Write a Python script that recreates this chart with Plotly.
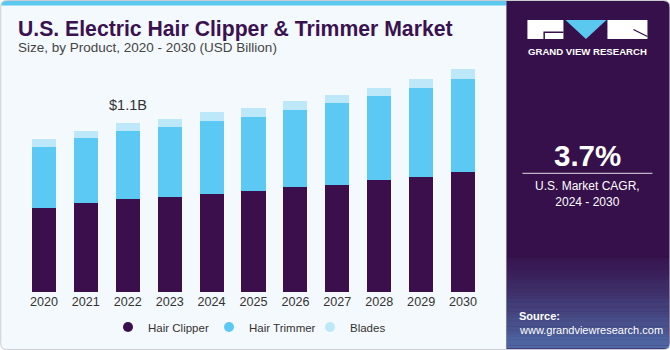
import plotly.graph_objects as go

# ---------------- data ----------------
years = ["2020", "2021", "2022", "2023", "2024", "2025", "2026", "2027", "2028", "2029", "2030"]
hair_clipper = [0.550, 0.580, 0.606, 0.619, 0.637, 0.660, 0.683, 0.698, 0.732, 0.750, 0.784]
hair_trimmer = [0.398, 0.422, 0.445, 0.458, 0.478, 0.482, 0.502, 0.537, 0.546, 0.582, 0.602]
blades = [0.050, 0.048, 0.048, 0.050, 0.057, 0.055, 0.063, 0.050, 0.054, 0.055, 0.065]
series_names = ["Hair Clipper", "Hair Trimmer", "Blades"]
series_colors = ["#3A0F4B", "#5CC9F5", "#BDE8FA"]
highlight_year = "2022"
highlight_label = "$1.1B"
title_text = "U.S. Electric Hair Clipper & Trimmer Market"
subtitle_text = "Size, by Product, 2020 - 2030 (USD Billion)"
cagr_text = "3.7%"
cagr_label = "U.S. Market CAGR,<br>2024 - 2030"

# ---------------- geometry helpers ----------------
W, H = 670, 350
L, R, T, B = 22.75, 186.4, 60, 58
PW, PH = W - L - R, H - T - B
Y_MAX = 232 / 153.4


def px(x):
    return (x - L) / PW


def py(y):
    return (H - B - y) / PH


def rrect(x0, y0, x1, y1, rtl=0, rtr=0, rbr=0, rbl=0):
    p = f"M {px(x0 + rtl)},{py(y0)} L {px(x1 - rtr)},{py(y0)} "
    p += f"Q {px(x1)},{py(y0)} {px(x1)},{py(y0 + rtr)} "
    p += f"L {px(x1)},{py(y1 - rbr)} Q {px(x1)},{py(y1)} {px(x1 - rbr)},{py(y1)} "
    p += f"L {px(x0 + rbl)},{py(y1)} Q {px(x0)},{py(y1)} {px(x0)},{py(y1 - rbl)} "
    p += f"L {px(x0)},{py(y0 + rtl)} Q {px(x0)},{py(y0)} {px(x0 + rtl)},{py(y0)} Z"
    return p


def poly(points):
    return "M " + " L ".join(f"{px(a)},{py(b)}" for a, b in points) + " Z"


fig = go.Figure()

for name, vals, col in zip(series_names, [hair_clipper, hair_trimmer, blades], series_colors):
    fig.add_trace(go.Bar(x=years, y=vals, name=name, marker=dict(color=col, line=dict(width=0)),
                         showlegend=False))
# legend entries with circle markers
for name, col in zip(series_names, series_colors):
    fig.add_trace(go.Scatter(x=[None], y=[None], mode="markers", name=name,
                             marker=dict(color=col, size=10, symbol="circle")))

shapes = []
# outer card
shapes.append(dict(type="path", path=rrect(0.5, 0.5, 669.5, 349.5, 6, 6, 6, 6),
                   fillcolor="#F4F9FD", line=dict(color="#C9CDD2", width=1), layer="below"))
# top blue strip
shapes.append(dict(type="path", path=rrect(1, 1, 506, 5.5, 5, 0, 0, 0),
                   fillcolor="#5BC8F0", line=dict(width=0), layer="below"))
# right dark panel
shapes.append(dict(type="path", path=rrect(506, 1, 669, 349, 0, 6, 6, 0),
                   fillcolor="#36104A", line=dict(width=0), layer="below"))
# gradient bands at bottom of dark panel
n_bands = 24
for i in range(n_bands):
    y0 = 258 + i * 3.8
    y1 = y0 + 3.9
    a = 0.05 + 0.55 * (i / (n_bands - 1)) ** 1.2
    shapes.append(dict(type="rect", xref="paper", yref="paper", x0=px(506), x1=px(668.5),
                       y0=py(min(y1, 348.5)), y1=py(y0),
                       fillcolor=f"rgba(95,165,225,{a:.3f})", line=dict(width=0), layer="below"))
# logo
shapes.append(dict(type="path", path=poly([(527, 20), (563, 20), (563, 39), (527, 39)]),
                   fillcolor="white", line=dict(width=0), layer="above"))
shapes.append(dict(type="path", path=poly([(543, 31.5), (563, 31.5), (563, 33), (544.5, 33), (544.5, 39), (543, 39)]),
                   fillcolor="#36104A", line=dict(width=0), layer="above"))
shapes.append(dict(type="path", path=poly([(565, 20), (606, 20), (585.5, 39)]),
                   fillcolor="#5BC8F0", line=dict(width=0), layer="above"))
shapes.append(dict(type="path", path=poly([(607, 20), (647, 20), (647, 39), (607, 39)]),
                   fillcolor="white", line=dict(width=0), layer="above"))
shapes.append(dict(type="line", xref="paper", yref="paper", x0=px(633), y0=py(29.5), x1=px(647), y1=py(36.5),
                   line=dict(color="#36104A", width=1.3), layer="above"))
# divider under CAGR
shapes.append(dict(type="line", xref="paper", yref="paper", x0=px(522), y0=py(173.3), x1=px(652), y1=py(173.3),
                   line=dict(color="rgba(255,255,255,0.85)", width=1), layer="above"))
for s in shapes:
    s.setdefault("xref", "paper")
    s.setdefault("yref", "paper")

FONT = "Liberation Sans, Arial, sans-serif"
annotations = [
    dict(text=f"<b>{title_text}</b>", x=px(15.5), y=py(28.9), xanchor="left", yanchor="middle",
         font=dict(family=FONT, size=21.2, color="#3A1250")),
    dict(text=subtitle_text, x=px(15.5), y=py(47.5), xanchor="left", yanchor="middle",
         font=dict(family=FONT, size=13.5, color="#444444")),
    dict(text="<b>GRAND VIEW RESEARCH</b>", x=px(587.5), y=py(51), xanchor="center", yanchor="middle",
         font=dict(family=FONT, size=9.6, color="white")),
    dict(text=f"<b>{cagr_text}</b>", x=px(587), y=py(155.3), xanchor="center", yanchor="middle",
         font=dict(family=FONT, size=29.5, color="white")),
    dict(text=cagr_label, x=px(587.5), y=py(193.5), xanchor="center", yanchor="middle",
         font=dict(family=FONT, size=12, color="white")),
    dict(text="<b>Source:</b>", x=px(517), y=py(316), xanchor="left", yanchor="middle",
         font=dict(family=FONT, size=11, color="white")),
    dict(text="www.grandviewresearch.com", x=px(517), y=py(330), xanchor="left", yanchor="middle",
         font=dict(family=FONT, size=11, color="white")),
]
for a in annotations:
    a.update(xref="paper", yref="paper", showarrow=False)

hi = years.index(highlight_year)
total_hi = hair_clipper[hi] + hair_trimmer[hi] + blades[hi]
annotations.append(dict(text=highlight_label, x=hi, y=total_hi, xref="x", yref="y",
                        xanchor="center", yanchor="middle", yshift=18.5, showarrow=False,
                        font=dict(family=FONT, size=14.5, color="#333333")))

fig.update_layout(
    width=W, height=H,
    margin=dict(l=L, r=R, t=T, b=B, pad=0, autoexpand=False),
    barmode="stack", bargap=0.427,
    paper_bgcolor="white", plot_bgcolor="rgba(0,0,0,0)",
    font=dict(family=FONT, color="#333333"),
    xaxis=dict(type="category", range=[-0.5, 10.5], showgrid=False, zeroline=False, showline=False,
               ticks="", tickfont=dict(size=12.6, color="#333333"), fixedrange=True),
    yaxis=dict(range=[0, Y_MAX], visible=False, fixedrange=True),
    showlegend=True,
    legend=dict(orientation="h", xref="container", yref="container", x=108 / W, y=1 - 327 / H,
                xanchor="left", yanchor="middle", bgcolor="rgba(0,0,0,0)", traceorder="normal",
                entrywidth=56, entrywidthmode="pixels",
                font=dict(size=11.5, color="#333333"), itemclick=False, itemdoubleclick=False),
    shapes=shapes,
    annotations=annotations,
)

fig.write_html("out.html", config=dict(displayModeBar=False))
